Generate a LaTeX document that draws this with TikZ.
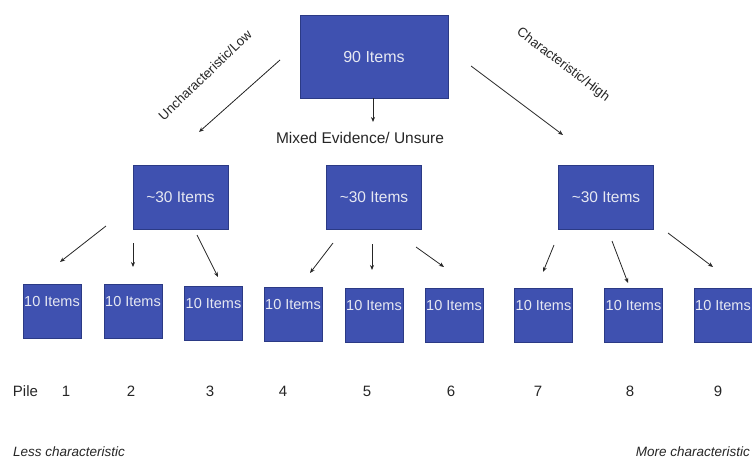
\documentclass[tikz,border=0pt]{standalone}
\usepackage{fontspec}
\setmainfont{Liberation Sans}
\usetikzlibrary{arrows.meta}
\definecolor{boxfill}{HTML}{3F51B0}
\definecolor{boxedge}{HTML}{2B3A85}
\definecolor{boxtxt}{HTML}{E6E8F2}
\definecolor{ink}{HTML}{262626}
\begin{document}
\begin{tikzpicture}[x=1pt,y=-1pt,
  bx/.style={draw=boxedge, line width=0.6pt, fill=boxfill, inner sep=0pt, text=boxtxt},
  bigbox/.style={bx, minimum width=148pt, minimum height=83pt, font=\fontsize{16}{19}\selectfont},
  midbox/.style={bx, minimum width=95pt, minimum height=64pt, font=\fontsize{15.5}{18}\selectfont},
  pilebox/.style={bx, minimum width=58pt, minimum height=54pt},
  piletext/.style={text=boxtxt, inner sep=0pt, font=\fontsize{14.5}{17}\selectfont},
  arr/.style={draw=ink, line width=0.8pt, -{Stealth[length=5pt,width=4pt]}},
  lbl/.style={text=ink, inner sep=0pt, font=\fontsize{15}{18}\selectfont},
  rotlbl/.style={text=ink, inner sep=0pt, font=\fontsize{13.3}{16}\selectfont},
  endlbl/.style={text=ink, inner sep=0pt, font=\fontsize{13.5}{16}\selectfont\itshape}
]
\useasboundingbox (0,0) rectangle (752,460);

% top box
\node[bigbox] (top) at (374,56.5) {90 Items};

% middle boxes
\node[midbox] (mL) at (180.5,197) {\textasciitilde30 Items};
\node[midbox] (mM) at (374,197) {\textasciitilde30 Items};
\node[midbox] (mR) at (606,197) {\textasciitilde30 Items};

% pile boxes
\node[pilebox] (b1) at (52,311) {};
\node[pilebox] (b2) at (133,311) {};
\node[pilebox] (b3) at (213.5,313) {};
\node[pilebox] (b4) at (293,314) {};
\node[pilebox] (b5) at (374,315) {};
\node[pilebox] (b6) at (454,315) {};
\node[pilebox] (b7) at (543.5,315) {};
\node[pilebox] (b8) at (633.5,315) {};
\node[pilebox] (b9) at (723,315) {};
\foreach \i in {1,...,9}{
  \node[piletext] (t\i) at ([yshift=-18pt]b\i.north) {10 Items};
}

% top-level arrows
\coordinate (sL) at (280,60);  \coordinate (eL) at (199,132);
\coordinate (sM) at (373,98);  \coordinate (eM) at (373,122);
\coordinate (sR) at (471,66);  \coordinate (eR) at (563,135);
\draw[arr] (sL) -- (eL);
\draw[arr] (sM) -- (eM);
\draw[arr] (sR) -- (eR);

% labels of top-level arrows
\node[rotlbl, rotate=44] (lowlbl) at (205,75) {Uncharacteristic/Low};
\node[rotlbl, rotate=-37] (highlbl) at (563,65) {Characteristic/High};
\node[lbl, font=\fontsize{15.5}{18}\selectfont] (mixlbl) at (360,138) {Mixed Evidence/ Unsure};

% second-level arrows
\coordinate (s1) at (106,226); \coordinate (e1) at (60,262);
\coordinate (s2) at (133,243); \coordinate (e2) at (133,267);
\coordinate (s3) at (197,235); \coordinate (e3) at (218,277);
\coordinate (s4) at (333,243); \coordinate (e4) at (310,273);
\coordinate (s5) at (372,244); \coordinate (e5) at (372,270);
\coordinate (s6) at (416,247); \coordinate (e6) at (444,267);
\coordinate (s7) at (554,245); \coordinate (e7) at (543,272);
\coordinate (s8) at (612,241); \coordinate (e8) at (628,283);
\coordinate (s9) at (668,233); \coordinate (e9) at (713,267);
\foreach \i in {1,...,9}{
  \draw[arr] (s\i) -- (e\i);
}

% pile numbers
\node[lbl] (pile) at (25.5,391) {Pile};
\node[lbl] (n1) at (66,391) {1};
\node[lbl] (n2) at (131,391) {2};
\node[lbl] (n3) at (210,391) {3};
\node[lbl] (n4) at (283,391) {4};
\node[lbl] (n5) at (367,391) {5};
\node[lbl] (n6) at (451,391) {6};
\node[lbl] (n7) at (538,391) {7};
\node[lbl] (n8) at (630,391) {8};
\node[lbl] (n9) at (718,391) {9};

% extremes
\node[endlbl, anchor=west] (less) at (13,452) {Less characteristic};
\node[endlbl, anchor=east] (more) at (750,452) {More characteristic};
\end{tikzpicture}
\end{document}
